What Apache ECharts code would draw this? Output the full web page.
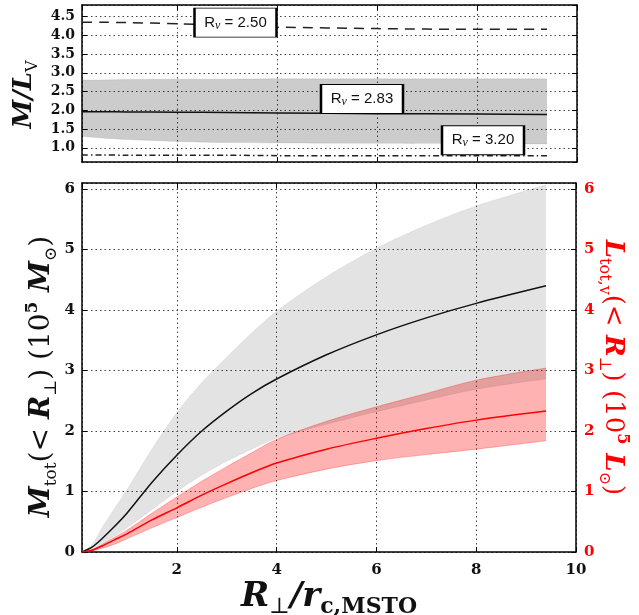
<!DOCTYPE html>
<html>
<head>
<meta charset="utf-8">
<script src="https://cdn.jsdelivr.net/npm/echarts@6/dist/echarts.min.js"></script>
<style>html,body{margin:0;padding:0;background:#fff}#c{width:639px;height:615px}</style>
</head>
<body>
<div id="c"></div>
<script>
// ---- top panel: M/L_V versus radius ----
const xTop   = [0.1, 0.5, 1, 2, 3, 4, 6, 8, 9.4];
const mlMean = [1.96, 1.96, 1.955, 1.95, 1.94, 1.93, 1.91, 1.90, 1.89];
const mlUp   = [2.81, 2.81, 2.82, 2.83, 2.83, 2.84, 2.84, 2.84, 2.84];
const mlLo   = [1.30, 1.26, 1.22, 1.17, 1.14, 1.13, 1.12, 1.11, 1.10];
const mlRv250 = [4.35, 4.35, 4.34, 4.31, 4.26, 4.22, 4.18, 4.16, 4.16];
const mlRv320 = [0.81, 0.81, 0.80, 0.80, 0.80, 0.79, 0.79, 0.79, 0.79];
const rvLabels = ['2.50', '2.83', '3.20'];

// ---- bottom panel: enclosed mass and luminosity ----
const xBot     = [0.1, 0.3, 0.5, 0.75, 1, 1.5, 2, 2.5, 3, 3.5, 4, 5, 6, 7, 8, 9.4];
const massMean = [0, 0.08, 0.22, 0.42, 0.64, 1.15, 1.60, 2.00, 2.33, 2.62, 2.86, 3.26, 3.59, 3.87, 4.11, 4.40];
const massUp   = [0, 0.12, 0.40, 0.72, 1.03, 1.70, 2.30, 2.80, 3.22, 3.62, 3.98, 4.55, 5.02, 5.40, 5.72, 6.07];
const massLo   = [0, 0.04, 0.12, 0.26, 0.40, 0.70, 1.00, 1.27, 1.50, 1.70, 1.88, 2.11, 2.32, 2.51, 2.69, 2.86];
const lumMean  = [0, 0.03, 0.10, 0.20, 0.30, 0.53, 0.73, 0.94, 1.13, 1.31, 1.47, 1.70, 1.88, 2.04, 2.18, 2.33];
const lumUp    = [0, 0.04, 0.12, 0.24, 0.36, 0.64, 0.91, 1.17, 1.41, 1.64, 1.86, 2.16, 2.40, 2.62, 2.84, 3.04];
const lumLo    = [0, 0.02, 0.06, 0.13, 0.22, 0.40, 0.57, 0.74, 0.90, 1.05, 1.18, 1.37, 1.51, 1.61, 1.70, 1.84];

const pair = (xs, ys) => xs.map((x, i) => [x, ys[i]]);
// band rows are stored as [y, x] so that stacking happens on the y dimension
const rowsYX = (xs, ys) => xs.map((x, i) => [ys[i], x]);
const diffYX = (xs, up, lo) => xs.map((x, i) => [+(up[i] - lo[i]).toFixed(4), x]);

const SERIF = 'DejaVu Serif';
const tickFont = {fontFamily: SERIF, fontWeight: 'bold', fontSize: 14, color: '#111'};
const frame = {show: true, onZero: false, lineStyle: {color: '#000', width: 1.5}};
const tickIn = {show: true, inside: true, length: 5, lineStyle: {color: '#000', width: 1}};
const dotted = {show: true, lineStyle: {color: '#444', width: 1, type: [1.5, 3]}};

function nameRich(size, color, subSize) {
  const sub = subSize || Math.round(size * 0.6);
  return {
    i: {fontFamily: SERIF, fontStyle: 'italic', fontWeight: 'bold', fontSize: size, color: color, lineHeight: size + 8},
    r: {fontFamily: SERIF, fontWeight: 'bold', fontSize: size, color: color, lineHeight: size + 8},
    n: {fontFamily: SERIF, fontWeight: 'normal', fontSize: size, color: color, lineHeight: size + 8},
    s: {fontFamily: SERIF, fontWeight: 'normal', fontSize: sub, color: color, verticalAlign: 'bottom', lineHeight: sub + 2},
    sb: {fontFamily: SERIF, fontWeight: 'bold', fontSize: sub, color: color, verticalAlign: 'bottom', lineHeight: sub + 2},
    p: {fontFamily: SERIF, fontWeight: 'bold', fontSize: sub, color: color, verticalAlign: 'top', lineHeight: sub + 2}
  };
}

const line = (xi, yi, data, color, width, type, z) => ({
  type: 'line', xAxisIndex: xi, yAxisIndex: yi, data: data, symbol: 'none', smooth: 0.3,
  lineStyle: {color: color, width: width, type: type || 'solid'}, z: z || 3, silent: true
});
const bandLo = (xi, yi, data, stack, edge) => ({
  type: 'line', xAxisIndex: xi, yAxisIndex: yi, data: data, encode: {x: 1, y: 0}, stack: stack,
  symbol: 'none', smooth: 0.35, lineStyle: {color: edge, width: 1}, z: 2, silent: true
});
const bandUp = (xi, yi, data, stack, edge, fill) => ({
  type: 'line', xAxisIndex: xi, yAxisIndex: yi, data: data, encode: {x: 1, y: 0}, stack: stack,
  symbol: 'none', smooth: 0.35, lineStyle: {color: edge, width: 1}, areaStyle: {color: fill, opacity: 1},
  z: 2, silent: true
});

const boxLabel = (v) => '{a|R}{s|v}{a| = ' + v + '}';
const boxRich = {
  a: {fontFamily: 'Liberation Sans', fontSize: 15, color: '#111', lineHeight: 18},
  s: {fontFamily: 'Liberation Serif', fontStyle: 'italic', fontSize: 12, color: '#111', verticalAlign: 'bottom', lineHeight: 10}
};
function markBox(x, y, v) {
  return {coord: [x, y], symbol: 'rect', symbolSize: [82, 29],
    itemStyle: {color: '#fff', borderColor: '#000', borderWidth: 1.5},
    label: {show: true, position: 'inside', formatter: boxLabel(v), rich: boxRich}};
}

const option = {
  animation: false,
  backgroundColor: '#fff',
  grid: [
    {left: 82, right: 62, top: 5, height: 157, outerBoundsMode: 'none', containLabel: false},
    {left: 82, right: 63, top: 183, height: 369, outerBoundsMode: 'none', containLabel: false}
  ],
  xAxis: [
    {type: 'value', gridIndex: 0, position: 'bottom', min: 0.1, max: 10, splitNumber: 5,
      axisLine: frame, axisTick: tickIn, axisLabel: {show: false}, splitLine: dotted},
    {type: 'value', gridIndex: 0, position: 'top', min: 0.1, max: 10, splitNumber: 5,
      axisLine: frame, axisTick: tickIn, axisLabel: {show: false}, splitLine: {show: false}},
    {type: 'value', gridIndex: 1, position: 'bottom', min: 0.1, max: 10, splitNumber: 5,
      axisLine: frame, axisTick: tickIn, splitLine: dotted,
      axisLabel: Object.assign({showMinLabel: false, showMaxLabel: true, margin: 11}, tickFont, {fontSize: 15}),
      name: '{i|R}{s|⊥}{i|/r}{sb|c,MSTO}', nameLocation: 'middle', nameGap: 24, nameMoveOverlap: false,
      nameTextStyle: {rich: nameRich(34, '#111', 22)}},
    {type: 'value', gridIndex: 1, position: 'top', min: 0.1, max: 10, splitNumber: 5,
      axisLine: frame, axisTick: tickIn, axisLabel: {show: false}, splitLine: {show: false}}
  ],
  yAxis: [
    {type: 'value', gridIndex: 0, position: 'left', min: 0.62, max: 4.81, splitNumber: 8,
      axisLine: frame, axisTick: tickIn, splitLine: dotted,
      axisLabel: Object.assign({showMinLabel: false, showMaxLabel: false, margin: 7,
        formatter: (v) => v.toFixed(1)}, tickFont, {fontSize: 14}),
      name: '{i|M/L}{s|V}', nameLocation: 'middle', nameGap: 41, nameRotate: 90, nameMoveOverlap: false,
      nameTextStyle: {rich: nameRich(26, '#111'), padding: [0, 22, 0, 0]}},
    {type: 'value', gridIndex: 0, position: 'right', min: 0.62, max: 4.81, splitNumber: 8,
      axisLine: frame, axisTick: tickIn, axisLabel: {show: false}, splitLine: {show: false}},
    {type: 'value', gridIndex: 1, position: 'left', min: 0, max: 6.1, splitNumber: 6,
      axisLine: frame, axisTick: tickIn, splitLine: dotted,
      axisLabel: Object.assign({showMaxLabel: false, margin: 7}, tickFont, {fontSize: 15}),
      name: '{i|M}{s|tot}{n|(< }{i|R}{s|⊥}{n|) (10}{p|5}{i| M}{s|⊙}{n|)}', nameLocation: 'middle',
      nameGap: 22, nameRotate: 90, nameMoveOverlap: false,
      nameTextStyle: {rich: nameRich(28, '#111', 17), padding: [0, 18, 0, 0]}},
    {type: 'value', gridIndex: 1, position: 'right', min: 0, max: 6.1, splitNumber: 6,
      axisLine: frame, axisTick: tickIn, splitLine: {show: false},
      axisLabel: Object.assign({showMaxLabel: false, margin: 8}, tickFont, {fontSize: 15, color: '#ff0000'}),
      name: '{i|L}{s|tot,v}{n|(< }{i|R}{s|⊥}{n|) (10}{p|5}{i| L}{s|⊙}{n|)}', nameLocation: 'middle',
      nameGap: 20, nameRotate: -90, nameMoveOverlap: false,
      nameTextStyle: {rich: nameRich(26, '#ff0000', 16)}}
  ],
  series: [
    // top panel
    bandLo(0, 0, rowsYX(xTop, mlLo), 'ml', 'rgba(0,0,0,0.08)'),
    bandUp(0, 0, diffYX(xTop, mlUp, mlLo), 'ml', 'rgba(0,0,0,0.08)', 'rgba(0,0,0,0.2)'),
    line(0, 0, pair(xTop, mlMean), '#111', 1.5),
    line(0, 0, pair(xTop, mlRv320), '#222', 1.5, [6, 3, 1.5, 3]),
    Object.assign(line(0, 0, pair(xTop, mlRv250), '#222', 1.5, [10, 7]), {
      markPoint: {silent: true, z: 10, data: [
        markBox(3.17, 4.34, rvLabels[0]),
        markBox(5.70, 2.30, rvLabels[1]),
        markBox(8.12, 1.20, rvLabels[2])
      ]}
    }),
    // bottom panel
    bandLo(2, 3, rowsYX(xBot, lumLo), 'lum', 'rgba(255,0,0,0.25)'),
    bandUp(2, 3, diffYX(xBot, lumUp, lumLo), 'lum', 'rgba(255,0,0,0.25)', 'rgba(255,0,0,0.3)'),
    bandLo(2, 2, rowsYX(xBot, massLo), 'mass', 'rgba(0,0,0,0.05)'),
    bandUp(2, 2, diffYX(xBot, massUp, massLo), 'mass', 'rgba(0,0,0,0.05)', 'rgba(0,0,0,0.11)'),
    line(2, 2, pair(xBot, massMean), '#111', 1.5, null, 4),
    line(2, 3, pair(xBot, lumMean), '#ff0000', 1.5, null, 4)
  ]
};

const chart = echarts.init(document.getElementById('c'), null, {renderer: 'canvas'});
chart.setOption(option);
</script>
</body>
</html>
